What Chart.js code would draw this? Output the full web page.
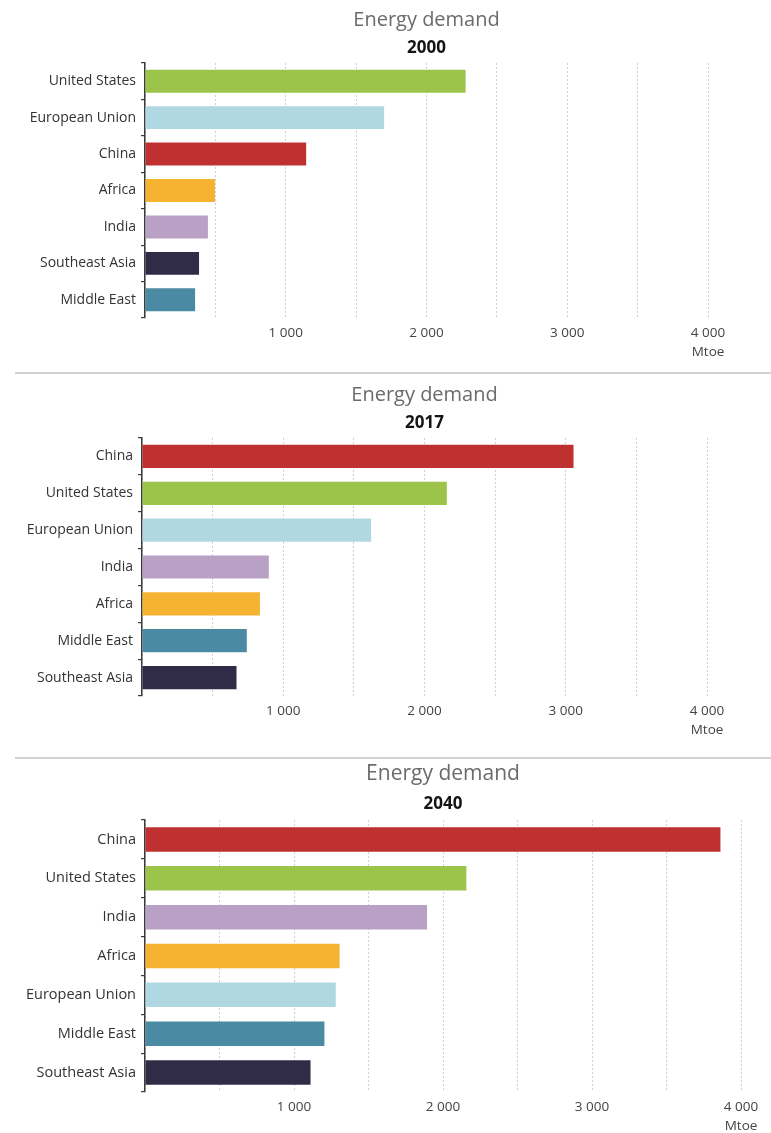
<!DOCTYPE html>
<html>
<head>
<meta charset="utf-8">
<script src="https://cdn.jsdelivr.net/npm/chart.js@4.4.1/dist/chart.umd.min.js"></script>
<style>
  html, body { margin: 0; padding: 0; background: #ffffff; overflow: hidden; }
  body { width: 771px; height: 1133px; position: relative; }
  canvas { position: absolute; left: 0; }
  .sep { position: absolute; left: 15px; right: 0; height: 2px; background: #d2d2d2; }
</style>
</head>
<body>
<canvas id="c2000" width="771" height="368" style="top:0px"></canvas>
<div class="sep" style="top:372px"></div>
<canvas id="c2017" width="771" height="382" style="top:374px"></canvas>
<div class="sep" style="top:757px"></div>
<canvas id="c2040" width="771" height="373" style="top:760px"></canvas>
<script>
// ---- Data ----
const chartTitle = 'Energy demand';
const years = ['2000', '2017', '2040'];

const categories2000 = ['United States', 'European Union', 'China', 'Africa', 'India', 'Southeast Asia', 'Middle East'];
const values2000 = [2278, 1699, 1145, 497, 447, 384, 356];

const categories2017 = ['China', 'United States', 'European Union', 'India', 'Africa', 'Middle East', 'Southeast Asia'];
const values2017 = [3055, 2158, 1622, 898, 835, 742, 669];

const categories2040 = ['China', 'United States', 'India', 'Africa', 'European Union', 'Middle East', 'Southeast Asia'];
const values2040 = [3862, 2157, 1893, 1306, 1280, 1204, 1111];

const xTickValues = [1000, 2000, 3000, 4000];
const xTickLabels = ['1 000', '2 000', '3 000', '4 000'];
const unitLabel = 'Mtoe';

// ---- Styles ----
const regionColors = {
  'United States': '#9cc44b',
  'European Union': '#afd8e3',
  'China': '#bf3130',
  'Africa': '#f5b331',
  'India': '#b9a1c6',
  'Southeast Asia': '#302c48',
  'Middle East': '#4a8ba3'
};

const FONT = "'Open Sans', 'DejaVu Sans', sans-serif";
Chart.defaults.font.family = FONT;

const panelTitles = {
  id: 'panelTitles',
  afterDraw(chart, args, opts) {
    const { ctx, chartArea } = chart;
    const cx = (chartArea.left + chartArea.right) / 2;
    ctx.save();
    ctx.textAlign = 'center';
    ctx.textBaseline = 'middle';
    ctx.fillStyle = '#6b6b6b';
    ctx.font = opts.titleSize + 'px ' + FONT;
    ctx.fillText(opts.title, cx, opts.titleY);
    ctx.fillStyle = '#141414';
    ctx.font = 'bold ' + opts.yearSize + 'px ' + FONT;
    ctx.fillText(opts.year, cx, opts.yearY);
    ctx.restore();
  }
};

const panels = [
  { id: 'c2000', year: years[0], cats: categories2000, vals: values2000,
    padTop: 63, xHeight: 50, padRight: 63, yWidth: 145, titleY: 20, yearY: 48, titleSize: 20, labelSize: 14 },
  { id: 'c2017', year: years[1], cats: categories2017, vals: values2017,
    padTop: 64, xHeight: 60, padRight: 64, yWidth: 142, titleY: 21, yearY: 49, titleSize: 20, labelSize: 14 },
  { id: 'c2040', year: years[2], cats: categories2040, vals: values2040,
    padTop: 60, xHeight: 41, padRight: 30, yWidth: 145, titleY: 14, yearY: 44, titleSize: 21, labelSize: 14.5 }
];

panels.forEach(p => {
  new Chart(document.getElementById(p.id), {
    type: 'bar',
    data: {
      labels: p.cats,
      datasets: [{
        data: p.vals,
        backgroundColor: p.cats.map(c => regionColors[c]),
        borderWidth: 0,
        barPercentage: 0.63,
        categoryPercentage: 1.0
      }]
    },
    plugins: [panelTitles],
    options: {
      indexAxis: 'y',
      responsive: false,
      animation: false,
      layout: { padding: { top: p.padTop, right: p.padRight, left: 0, bottom: 0 } },
      plugins: {
        legend: { display: false },
        tooltip: { enabled: false },
        panelTitles: { title: chartTitle, year: p.year, titleY: p.titleY, yearY: p.yearY, titleSize: p.titleSize, yearSize: 17 }
      },
      scales: {
        x: {
          type: 'linear',
          min: 0,
          max: 4000,
          afterFit(scale) { scale.height = p.xHeight; },
          afterBuildTicks(scale) {
            const t = [];
            for (let v = 0; v <= 4000; v += 500) t.push({ value: v });
            scale.ticks = t;
          },
          border: { display: false, dash: [2, 2] },
          grid: { color: '#cfcfcf', lineWidth: 1, drawTicks: false },
          ticks: {
            autoSkip: false,
            maxRotation: 0,
            padding: 6,
            color: '#444444',
            font: { size: 13.5, lineHeight: 1.4 },
            callback: (v) => {
              const i = xTickValues.indexOf(v);
              if (i < 0) return '';
              return i === xTickValues.length - 1 ? [xTickLabels[i], unitLabel] : xTickLabels[i];
            }
          }
        },
        y: {
          afterFit(scale) { scale.width = p.yWidth; },
          border: { display: true, color: '#3a3a3a', width: 1.5 },
          grid: { display: true, drawOnChartArea: false, drawTicks: true, tickLength: 4, color: '#3a3a3a', lineWidth: 1.2, offset: true },
          ticks: { color: '#333333', padding: 5, font: { size: p.labelSize } }
        }
      }
    }
  });
});
</script>
</body>
</html>
